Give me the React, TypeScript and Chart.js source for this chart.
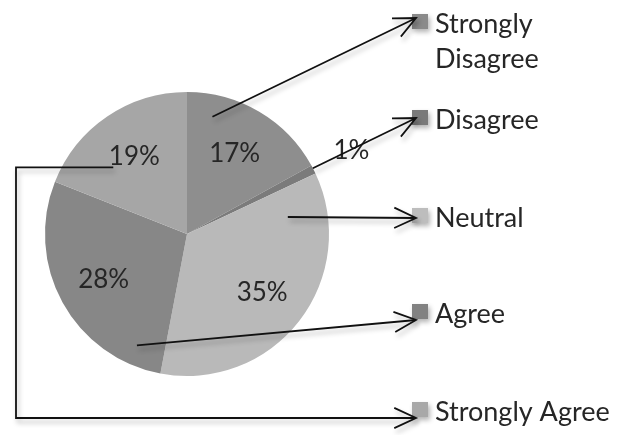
import React, { useEffect, useRef } from "react";
import { Chart, registerables } from "chart.js";

Chart.register(...registerables);

const labels = ["Strongly Disagree", "Disagree", "Neutral", "Agree", "Strongly Agree"];
const legendLines = [["Strongly", "Disagree"], ["Disagree"], ["Neutral"], ["Agree"], ["Strongly Agree"]];
const values = [17, 1, 35, 28, 19];
const sliceColors = ["#8e8e8e", "#7b7b7b", "#b9b9b9", "#878787", "#a6a6a6"];
const legendColors = ["#8a8a8a", "#7a7a7a", "#bdbdbd", "#828282", "#a8a8a8"];

// layout for annotations (not data)
const LEGEND_X = 412;
const LEGEND_TOPS = [14, 110, 208, 304, 402];
const LABEL_R = [0.66, 1.3, 0.67, 0.67, 0.66];
const TAIL = [
  [0.2, 0.845],
  [0.33, 1.0],
  [0.124, 0.72],
  [0.133, 0.86],
  [0.3, 0.7],
];
const TIP_DY = [4, 8, 10, 16, 16];
const ELBOW_X = 16;

const FONT = "Lato, 'Open Sans', sans-serif";

function arcPoint(arc: any, frac: number, rFrac: number) {
  const p = arc.getProps(["x", "y", "startAngle", "endAngle", "outerRadius"], true);
  const a = p.startAngle + (p.endAngle - p.startAngle) * frac;
  return [p.x + Math.cos(a) * p.outerRadius * rFrac, p.y + Math.sin(a) * p.outerRadius * rFrac];
}

function arrowHead(ctx: CanvasRenderingContext2D, fx: number, fy: number, tx: number, ty: number) {
  const ang = Math.atan2(ty - fy, tx - fx);
  const len = 24;
  const spread = (25 * Math.PI) / 180;
  ctx.beginPath();
  ctx.moveTo(tx - len * Math.cos(ang - spread), ty - len * Math.sin(ang - spread));
  ctx.lineTo(tx, ty);
  ctx.lineTo(tx - len * Math.cos(ang + spread), ty - len * Math.sin(ang + spread));
  ctx.stroke();
}

const annotPlugin = {
  id: "annot",
  afterDatasetsDraw(chart: any) {
    const ctx: CanvasRenderingContext2D = chart.ctx;
    const arcs = chart.getDatasetMeta(0).data;
    ctx.save();
    // percentage labels
    ctx.fillStyle = "#262626";
    ctx.font = `26px ${FONT}`;
    ctx.textAlign = "center";
    ctx.textBaseline = "middle";
    arcs.forEach((arc: any, i: number) => {
      const [x, y] = arcPoint(arc, 0.5, LABEL_R[i]);
      ctx.fillText(values[i] + "%", x, y);
    });

    // legend squares with shadow
    ctx.save();
    ctx.shadowColor = "rgba(0,0,0,0.3)";
    ctx.shadowBlur = 5;
    ctx.shadowOffsetX = 2;
    ctx.shadowOffsetY = 3;
    legendColors.forEach((c, i) => {
      ctx.fillStyle = c;
      ctx.fillRect(LEGEND_X, LEGEND_TOPS[i], 16, 15);
    });
    ctx.restore();

    // legend text
    ctx.fillStyle = "#262626";
    ctx.font = `27px ${FONT}`;
    ctx.textAlign = "left";
    ctx.textBaseline = "alphabetic";
    legendLines.forEach((lines, i) => {
      lines.forEach((t, j) => {
        ctx.fillText(t, LEGEND_X + 23, LEGEND_TOPS[i] + 19 + j * 35);
      });
    });

    // arrows
    ctx.save();
    ctx.strokeStyle = "#111";
    ctx.lineWidth = 1.8;
    ctx.lineJoin = "miter";
    ctx.shadowColor = "rgba(0,0,0,0.28)";
    ctx.shadowBlur = 5;
    ctx.shadowOffsetX = 2;
    ctx.shadowOffsetY = 4;
    arcs.forEach((arc: any, i: number) => {
      const [sx, sy] = arcPoint(arc, TAIL[i][0], TAIL[i][1]);
      const tx = LEGEND_X + 4;
      const ty = LEGEND_TOPS[i] + TIP_DY[i];
      ctx.beginPath();
      if (i === 4) {
        ctx.moveTo(sx, sy);
        ctx.lineTo(ELBOW_X, sy);
        ctx.lineTo(ELBOW_X, ty);
        ctx.lineTo(tx, ty);
        ctx.stroke();
        arrowHead(ctx, ELBOW_X, ty, tx, ty);
      } else {
        ctx.moveTo(sx, sy);
        ctx.lineTo(tx, ty);
        ctx.stroke();
        arrowHead(ctx, sx, sy, tx, ty);
      }
    });
    ctx.restore();
    ctx.restore();
  },
};

export default function App() {
  const ref = useRef<HTMLCanvasElement>(null);
  useEffect(() => {
    if (!ref.current) return;
    const chart = new Chart(ref.current, {
      type: "pie",
      data: {
        labels,
        datasets: [
          {
            data: values,
            backgroundColor: sliceColors,
            borderWidth: 0,
          },
        ],
      },
      options: {
        responsive: false,
        animation: false,
        layout: { padding: { left: 45, top: 92, right: 301, bottom: 59 } },
        plugins: { legend: { display: false }, tooltip: { enabled: false } },
      },
      plugins: [annotPlugin],
    });
    return () => chart.destroy();
  }, []);
  return (
    <div style={{ position: "absolute", left: 0, top: 0, width: 630, height: 435, background: "#fff" }}>
      <canvas ref={ref} width={630} height={435} />
    </div>
  );
}
